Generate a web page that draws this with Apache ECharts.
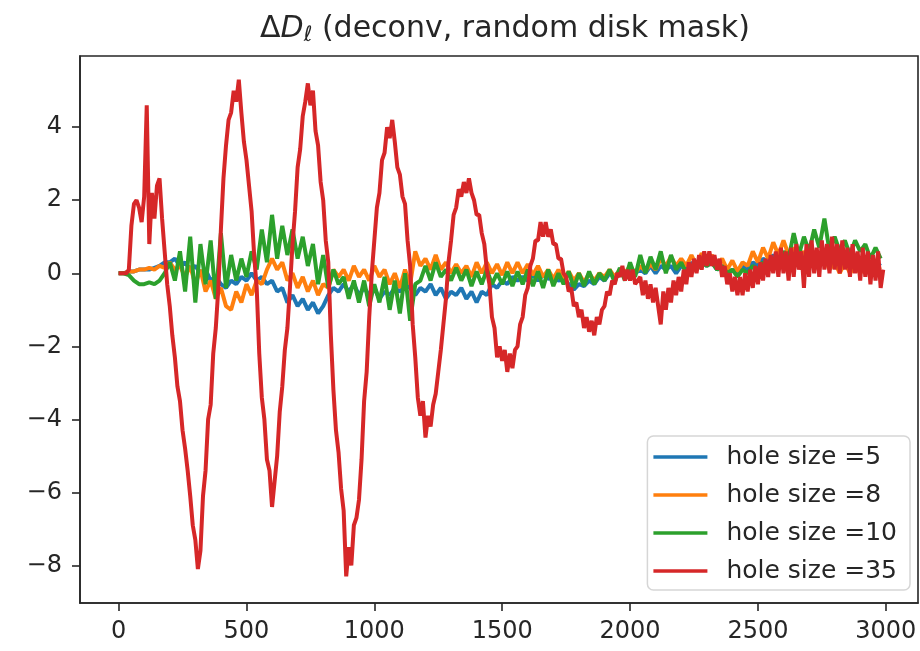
<!DOCTYPE html>
<html>
<head>
<meta charset="utf-8">
<title>deconv, random disk mask</title>
<script src="https://cdn.jsdelivr.net/npm/echarts@6/dist/echarts.min.js"></script>
<style>
  html, body { margin: 0; padding: 0; background: #fff; }
  #chart { width: 920px; height: 651px; }
</style>
</head>
<body>
<div id="chart"></div>
<script>
// series names
const names = ['hole size =5', 'hole size =8', 'hole size =10', 'hole size =35']
const colors = ['#1f77b4', '#ff7f0e', '#2ca02c', '#d62728']

// tick labels
const xTicks = [0, 500, 1000, 1500, 2000, 2500, 3000]
const yTicks = [-8, -6, -4, -2, 0, 2, 4]

// red curve is read every 10, the other three every 20
const stepRed = 10
const stepOther = 20

// hole size = 35
const red = [
  0, 0, 0, 0, 0.1, 1.3, 1.9, 2.0, 1.8, 1.4,
  2.1, 4.6, 0.8, 2.2, 1.5, 2.4, 2.6, 1.5, 0.6, -0.3,
  -0.9, -1.7, -2.3, -3.1, -3.5, -4.3, -4.8, -5.4, -6.1, -6.9,
  -7.3, -8.1, -7.6, -6.1, -5.4, -4.0, -3.6, -2.2, -1.5, -0.4,
  1.2, 2.6, 3.5, 4.2, 4.4, 5.0, 4.7, 5.3, 4.4, 3.6,
  3.1, 2.4, 1.7, 0.5, -0.4, -2.2, -3.4, -4.0, -5.1, -5.4,
  -6.4, -5.7, -5.0, -3.8, -3.1, -2.1, -1.5, -0.4, 0.8, 1.7,
  2.9, 3.4, 4.3, 4.7, 5.2, 4.6, 5.0, 3.9, 3.5, 2.5,
  2.0, 0.9, 0.3, -1.7, -3.2, -4.3, -4.9, -5.9, -6.5, -8.3,
  -7.5, -8.0, -6.9, -6.7, -6.2, -5.1, -3.5, -2.7, -1.2, 0.0,
  0.9, 1.8, 2.2, 3.1, 3.3, 4.0, 3.7, 4.2, 3.6, 2.9,
  2.7, 2.1, 1.9, 0.9, 0.2, -1.4, -2.3, -3.4, -3.9, -3.5,
  -4.5, -3.9, -4.2, -3.6, -3.3, -2.7, -2.1, -1.4, -0.7, 0.3,
  0.9, 1.6, 1.8, 2.3, 2.1, 2.5, 2.2, 2.6, 2.2, 2.0,
  1.6, 1.6, 1.1, 0.8, 0.1, -0.3, -1.2, -1.5, -2.3, -2.0,
  -2.4, -2.1, -2.7, -2.2, -2.6, -2.1, -2.0, -1.4, -1.2, -0.6,
  -0.4, 0.2, 0.4, 0.9, 0.9, 1.4, 1.0, 1.4, 1.0, 1.2,
  0.8, 0.8, 0.4, 0.4, 0.0, -0.1, -0.5, -0.4, -0.9, -0.8,
  -1.2, -1.0, -1.5, -1.2, -1.6, -1.3, -1.7, -1.2, -1.4, -1.0,
  -0.9, -0.5, -0.6, -0.2, -0.3, 0.0, -0.1, 0.2, -0.2, 0.1,
  -0.2, 0.1, -0.3, -0.2, -0.1, -0.6, -0.2, -0.7, -0.3, -0.8,
  -0.4, -0.9, -1.4, -0.5, -1.0, -0.4, -0.8, -0.2, -0.6, -0.1,
  -0.5, 0.1, -0.3, 0.3, -0.1, 0.4, 0.0, 0.5, 0.1, 0.6,
  0.2, 0.6, 0.2, 0.5, 0.1, 0.4, -0.1, 0.2, -0.3, 0.0,
  -0.5, -0.1, -0.6, -0.1, -0.6, 0.0, -0.5, 0.1, -0.4, 0.2,
  -0.3, 0.3, -0.2, 0.4, -0.1, 0.5, 0.0, 0.6, -0.1, 0.7,
  0.0, 0.6, -0.2, 0.7, -0.1, 0.8, 0.1, 0.6, -0.4, 0.8,
  -0.1, 0.9, 0.0, 0.7, -0.1, 0.9, 0.1, 0.8, 0.0, 1.0,
  0.1, 0.8, 0.0, 0.9, 0.1, 0.7, -0.1, 0.8, 0.0, 0.6,
  -0.2, 0.7, -0.1, 0.6, -0.3, 0.5, -0.2, 0.6, -0.4, 0.1
]

// hole size = 10
const green = [
  0, 0, -0.05, -0.2, -0.3, -0.3, -0.25, -0.3, -0.2, 0.0,
  0.3, -0.2, 0.6, -0.5, 1.0, -0.8, 0.8, -0.3, 0.9, -0.7,
  1.1, -0.4, 0.5, -0.2, 0.4, -0.1, 0.6, 0.1, 1.2, 0.3,
  1.6, 0.4, 1.3, 0.5, 1.2, 0.4, 1.0, 0.2, 0.8, -0.3,
  0.5, -0.4, 0.1, -0.3, -0.1, -0.7, -0.2, -0.8, -0.2, -0.9,
  -0.3, -0.8, -0.1, -1.0, -0.2, -1.1, 0.0, -1.3, -0.3, -0.2,
  0.2, -0.2, 0.3, -0.1, 0.1, -0.2, 0.15, -0.2, 0.1, -0.35,
  0.05, -0.3, 0.1, -0.3, 0.0, -0.3, 0.05, -0.35, 0.05, -0.3,
  0.1, -0.35, 0.05, -0.4, 0.1, -0.35, 0.0, -0.3, 0.05, -0.4,
  0.0, -0.35, 0.05, -0.3, 0.0, -0.2, 0.1, -0.25, 0.15, -0.2,
  0.3, -0.1, 0.5, 0.0, 0.45, 0.1, 0.6, 0.0, 0.5, 0.1,
  0.3, 0.0, 0.2, 0.1, 0.3, 0.2, 0.3, 0.1, 0.2, 0.0,
  0.1, -0.1, 0.1, 0.0, 0.2, 0.1, 0.3, 0.2, 0.4, 0.3,
  0.6, 0.4, 1.1, 0.5, 1.0, 0.6, 1.2, 0.7, 1.5, 0.6,
  1.0, 0.6, 0.9, 0.5, 0.9, 0.6, 0.8, 0.4, 0.7, 0.4
]

// hole size = 8
const orange = [
  0, 0, 0.05, 0.05, 0.1, 0.1, 0.15, 0.1, 0.2, 0.15,
  0.3, 0.1, 0.2, -0.1, 0.2, -0.3, 0.1, -0.5, -0.2, -0.7,
  -0.4, -0.9, -1.0, -0.5, -0.8, -0.3, -0.6, -0.2, -0.3, 0.1,
  0.4, 0.1, 0.3, -0.2, 0.0, -0.4, -0.1, -0.5, -0.2, -0.6,
  -0.3, -0.4, 0.1, -0.1, 0.1, -0.2, 0.2, -0.1, 0.1, -0.2,
  0.2, -0.1, 0.1, -0.3, 0.0, -0.4, 0.1, -0.3, 0.6, 0.2,
  0.4, 0.1, 0.5, 0.1, 0.3, 0.0, 0.25, 0.0, 0.2, -0.1,
  0.3, 0.0, 0.3, 0.0, 0.25, -0.05, 0.3, 0.0, 0.3, 0.0,
  0.25, -0.05, 0.2, -0.1, 0.1, -0.15, 0.1, -0.2, 0.05, -0.2,
  0.0, -0.25, 0.0, -0.2, 0.0, -0.1, 0.1, -0.1, 0.1, 0.0,
  0.2, 0.0, 0.2, 0.05, 0.25, 0.1, 0.4, 0.2, 0.45, 0.2,
  0.4, 0.2, 0.5, 0.2, 0.55, 0.3, 0.5, 0.2, 0.4, 0.1,
  0.35, 0.05, 0.3, 0.2, 0.6, 0.3, 0.7, 0.4, 0.85, 0.5,
  0.9, 0.5, 0.7, 0.4, 0.6, 0.3, 0.5, 0.2, 0.4, 0.1,
  0.3, 0.0, 0.3, 0.0, 0.2, 0.0, 0.2, 0.0, 0.2, 0.1
]

// hole size = 5
const blue = [
  0, 0, 0.05, 0.05, 0.1, 0.1, 0.1, 0.15, 0.2, 0.3,
  0.3, 0.4, 0.2, 0.3, 0.1, 0.2, 0.0, 0.1, -0.2, -0.1,
  -0.3, -0.4, -0.2, -0.3, -0.1, -0.2, 0.0, -0.2, -0.1, -0.3,
  -0.2, -0.5, -0.4, -0.8, -0.6, -0.9, -0.7, -1.0, -0.8, -1.1,
  -0.9, -0.6, -0.4, -0.5, -0.3, -0.5, -0.3, -0.6, -0.4, -0.6,
  -0.4, -0.7, -0.5, -0.6, -0.4, -0.5, -0.3, -0.4, -0.6, -0.4,
  -0.5, -0.3, -0.6, -0.4, -0.7, -0.5, -0.6, -0.4, -0.7, -0.5,
  -0.8, -0.5, -0.6, -0.3, -0.4, -0.2, -0.3, -0.1, -0.2, -0.1,
  -0.2, -0.05, -0.2, -0.05, -0.15, -0.1, -0.2, -0.15, -0.3, -0.45,
  -0.3, -0.35, -0.2, -0.3, -0.1, -0.2, 0.0, -0.1, 0.1, 0.0,
  0.1, 0.0, 0.1, 0.0, 0.2, 0.0, 0.2, 0.1, 0.2, 0.0,
  0.2, 0.1, 0.3, 0.1, 0.3, 0.2, 0.3, 0.1, 0.2, 0.0,
  0.1, 0.0, 0.2, 0.1, 0.3, 0.2, 0.4, 0.3, 0.5, 0.3,
  0.5, 0.3, 0.6, 0.3, 0.5, 0.3, 0.5, 0.3, 0.6, 0.4,
  0.5, 0.3, 0.4, 0.2, 0.4, 0.2, 0.3, 0.1, 0.3, 0.2
]

const toPairs = (arr, step) => arr.map((v, i) => [i * step, v])
const minus = v => (v < 0 ? '\u2212' + Math.abs(v) : String(v))

const mChart = echarts.init(document.getElementById('chart'), null, { renderer: 'canvas' })

const axisColor = '#262626'
const font = 'DejaVu Sans'

const option = {
  animation: false,
  backgroundColor: '#fff',
  title: {
    text: '{a|Δ}{d|D}{l|ℓ}{t| (deconv, random disk mask)}',
    left: 500,
    textAlign: 'center',
    top: 7,
    textStyle: {
      fontWeight: 'normal',
      rich: {
        a: { fontFamily: font, fontSize: 30, fontWeight: 'normal', color: axisColor },
        d: { fontFamily: font, fontSize: 30, fontWeight: 'normal', fontStyle: 'italic', color: axisColor },
        l: { fontFamily: font, fontSize: 21, fontWeight: 'normal', fontStyle: 'italic', color: axisColor, verticalAlign: 'bottom', padding: [13, 0, 0, 0] },
        t: { fontFamily: font, fontSize: 30, fontWeight: 'normal', color: axisColor }
      }
    }
  },
  grid: {
    left: 80,
    right: 2,
    top: 56,
    bottom: 48,
    show: true,
    borderColor: axisColor,
    borderWidth: 1.6
  },
  legend: {
    data: names,
    orient: 'vertical',
    right: 10,
    bottom: 61,
    icon: 'rect',
    itemWidth: 54,
    itemHeight: 3.5,
    itemGap: 12,
    padding: [8, 13, 6, 6],
    backgroundColor: 'rgba(255,255,255,0.8)',
    borderColor: '#d6d6d6',
    borderWidth: 1.5,
    borderRadius: 6,
    textStyle: {
      fontFamily: font,
      fontSize: 25,
      color: axisColor,
      lineHeight: 26,
      padding: [0, 0, 0, 14]
    }
  },
  xAxis: {
    type: 'value',
    min: -151,
    max: 3126,
    splitLine: { show: false },
    axisLine: { show: true, onZero: false, lineStyle: { color: axisColor, width: 1.6 } },
    axisTick: { show: true, length: 8, customValues: xTicks, lineStyle: { color: axisColor, width: 1.6 } },
    axisLabel: { customValues: xTicks, margin: 17, fontFamily: font, fontSize: 24, color: axisColor, formatter: minus }
  },
  yAxis: {
    type: 'value',
    min: -9.03,
    max: 5.95,
    splitLine: { show: false },
    axisLine: { show: true, onZero: false, lineStyle: { color: axisColor, width: 1.6 } },
    axisTick: { show: true, length: 8, customValues: yTicks, lineStyle: { color: axisColor, width: 1.6 } },
    axisLabel: { customValues: yTicks, margin: 18, fontFamily: font, fontSize: 24, color: axisColor, formatter: minus }
  },
  series: [
    { name: names[0], data: toPairs(blue, stepOther) },
    { name: names[1], data: toPairs(orange, stepOther) },
    { name: names[2], data: toPairs(green, stepOther) },
    { name: names[3], data: toPairs(red, stepRed) }
  ].map((s, i) => ({
    ...s,
    type: 'line',
    showSymbol: false,
    color: colors[i],
    lineStyle: { width: 4, color: colors[i] },
    z: 2 + i
  }))
}

mChart.setOption(option)
</script>
</body>
</html>
